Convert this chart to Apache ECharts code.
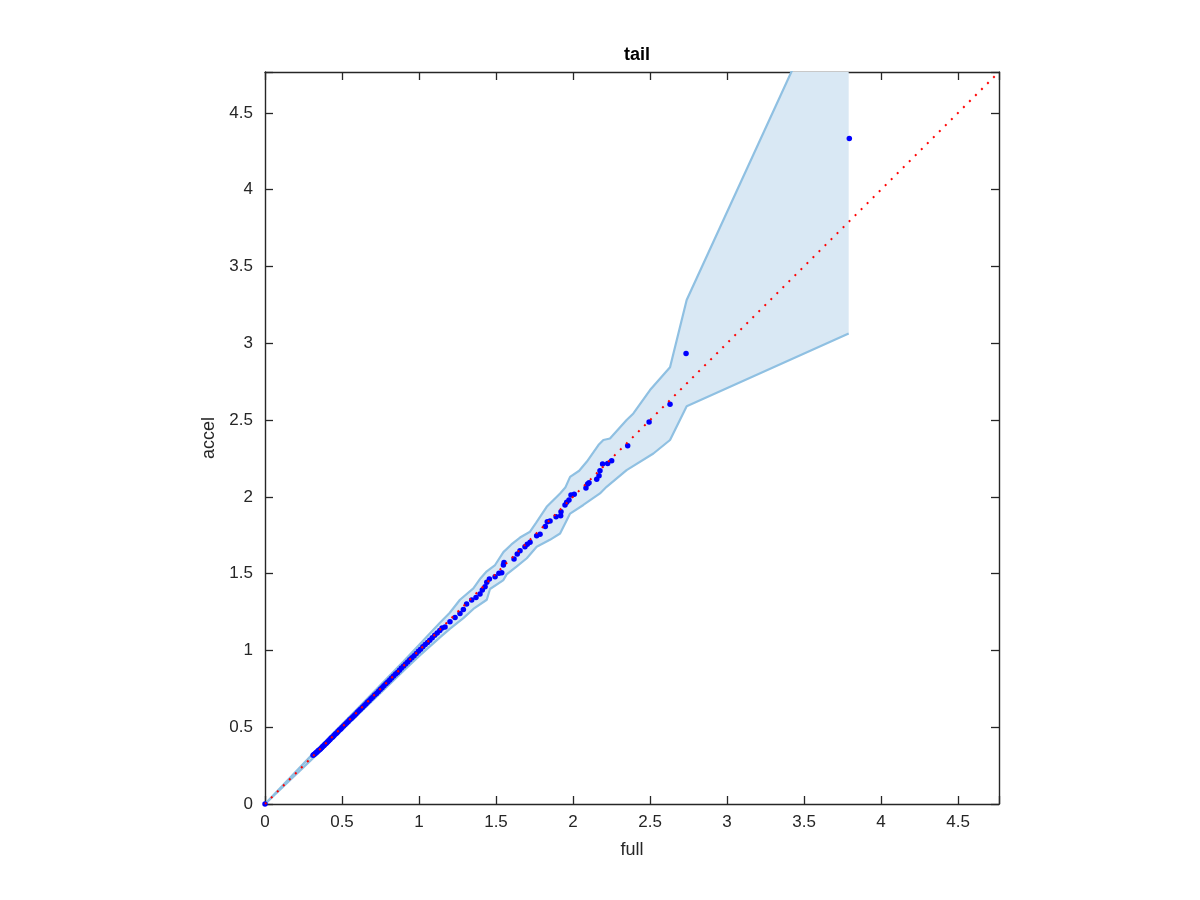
<!DOCTYPE html>
<html>
<head>
<meta charset="utf-8">
<script src="https://cdn.jsdelivr.net/npm/echarts@6/dist/echarts.min.js"></script>
<style>html,body{margin:0;padding:0;background:#fff;}#chart{width:1200px;height:900px;}</style>
</head>
<body>
<div id="chart"></div>
<script>
const AXIS_MAX = 4.766;
const tickLabels = ['0','0.5','1','1.5','2','2.5','3','3.5','4','4.5'];

// quantile points (full, accel)
const fullQ = [0, 0.312,0.318,0.325,0.331,0.338,0.345,0.352,0.36,0.368,0.375,0.383,0.39,0.398,0.406,0.414,0.422,0.43,0.44,0.448,0.457,0.466,0.474,0.483,0.492,0.5,0.51,0.52,0.53,0.54,0.55,0.56,0.57,0.58,0.59,0.6,0.61,0.62,0.632,0.643,0.655,0.665,0.676,0.688,0.7,0.712,0.724,0.736,0.748,0.76,0.772,0.785,0.797,0.81,0.822,0.835,0.848,0.86,0.873,0.886,0.9,0.913,0.926,0.94,0.954,0.968,0.982,0.996,1.01,1.025,1.04,1.055,1.07,1.086,1.102,1.118,1.135,1.15,
  1.169,1.201,1.234,1.266,1.288,1.309,1.342,1.370,1.396,1.411,1.429,1.440,1.457,1.494,1.519,1.537,1.548,1.552,1.617,1.638,1.656,1.688,1.703,1.721,1.764,1.786,1.820,1.833,1.851,1.890,1.920,1.922,1.948,1.959,1.974,1.987,2.008,2.084,2.095,2.104,2.154,2.169,2.175,2.192,2.225,2.251,2.355,2.494,2.630,2.734,3.794];
const accelQ = [0, 0.318,0.322,0.327,0.333,0.339,0.346,0.351,0.358,0.366,0.374,0.381,0.389,0.396,0.404,0.412,0.42,0.429,0.437,0.446,0.455,0.463,0.472,0.481,0.489,0.498,0.508,0.517,0.527,0.537,0.548,0.556,0.566,0.577,0.586,0.597,0.607,0.617,0.628,0.64,0.651,0.662,0.673,0.686,0.697,0.709,0.72,0.733,0.745,0.757,0.77,0.783,0.795,0.807,0.82,0.834,0.846,0.857,0.871,0.885,0.898,0.912,0.925,0.94,0.952,0.965,0.98,0.995,1.008,1.024,1.038,1.052,1.066,1.083,1.098,1.113,1.13,1.146,
  1.153,1.186,1.214,1.241,1.267,1.302,1.328,1.345,1.367,1.393,1.415,1.443,1.465,1.480,1.502,1.506,1.556,1.573,1.595,1.628,1.649,1.675,1.691,1.704,1.747,1.756,1.806,1.838,1.842,1.871,1.877,1.903,1.947,1.964,1.979,2.012,2.016,2.057,2.083,2.091,2.115,2.137,2.170,2.213,2.217,2.235,2.332,2.487,2.602,2.933,4.333];

// confidence band edges
const upperX = [0,0.3,0.6,0.9,1.0,1.136,1.2,1.266,1.353,1.40,1.44,1.494,1.548,1.60,1.656,1.721,1.76,1.829,1.916,1.95,1.981,2.04,2.089,2.165,2.197,2.240,2.348,2.392,2.5,2.63,2.738,3.79];
const upperY = [0,0.315,0.62,0.93,1.035,1.18,1.245,1.33,1.404,1.47,1.515,1.556,1.64,1.69,1.735,1.773,1.83,1.935,2.022,2.06,2.13,2.17,2.228,2.337,2.37,2.38,2.5,2.543,2.695,2.843,3.281,5.58];
const lowerX = [0,0.3,0.6,0.9,1.0,1.136,1.2,1.288,1.353,1.44,1.461,1.548,1.569,1.633,1.70,1.764,1.85,1.916,1.981,2.067,2.175,2.218,2.348,2.522,2.63,2.738,3.79];
const lowerY = [0,0.287,0.578,0.868,0.963,1.085,1.14,1.21,1.27,1.33,1.40,1.458,1.495,1.545,1.60,1.675,1.72,1.761,1.891,1.947,2.022,2.065,2.174,2.282,2.37,2.59,3.064];

const refLine = [[0,0],[AXIS_MAX,AXIS_MAX]];

const points = fullQ.map((v,i)=>[v, accelQ[i]]);
const upperPts = upperX.map((v,i)=>[v, upperY[i]]);
const lowerPts = lowerX.map((v,i)=>[v, lowerY[i]]);

const FONT = 'Liberation Sans, Helvetica, Arial, sans-serif';
const AX = '#262626';
const labelFmt = v => {
  const s = String(Math.round(v*100)/100);
  return tickLabels.indexOf(s) >= 0 && Math.abs(v - parseFloat(s)) < 1e-6 ? s : '';
};

function axisCommon(extra){
  return Object.assign({
    type:'value', min:0, max:AXIS_MAX, interval:0.5,
    splitLine:{show:false},
    axisLine:{show:true, onZero:false, lineStyle:{color:AX, width:1.4}},
    axisTick:{show:true, inside:true, length:8, lineStyle:{color:AX, width:1.3}},
  }, extra);
}

const chart = echarts.init(document.getElementById('chart'), null, {renderer:'canvas'});
chart.setOption({
  animation:false,
  backgroundColor:'#ffffff',
  title:{text:'tail', left:632, top:41, textAlign:'center',
    textStyle:{fontFamily:FONT, fontSize:18, fontWeight:'bold', color:'#000'}},
  grid:{left:265, top:72, right:201, bottom:96, containLabel:false},
  xAxis:[
    axisCommon({position:'bottom', name:'full', nameLocation:'middle', nameGap:37,
      nameTextStyle:{fontFamily:FONT, fontSize:18, color:AX},
      axisLabel:{fontFamily:FONT, fontSize:17, color:AX, margin:10, formatter:labelFmt}}),
    axisCommon({position:'top', axisLabel:{show:false}})
  ],
  yAxis:[
    axisCommon({position:'left', name:'accel', nameLocation:'middle', nameGap:46,
      nameTextStyle:{fontFamily:FONT, fontSize:18, color:AX},
      axisLabel:{fontFamily:FONT, fontSize:17, color:AX, margin:12, formatter:labelFmt}}),
    axisCommon({position:'right', axisLabel:{show:false}})
  ],
  series:[
    {
      type:'custom', xAxisIndex:0, yAxisIndex:0, clip:true, z:1, silent:true,
      data:[[0,0]],
      renderItem:function(params, api){
        const pts = [];
        upperPts.forEach(p=>pts.push(api.coord(p)));
        for(let i=lowerPts.length-1;i>=0;i--) pts.push(api.coord(lowerPts[i]));
        const cs = params.coordSys;
        return {type:'polygon', shape:{points:pts},
          clipPath:{type:'rect', shape:{x:cs.x, y:cs.y, width:cs.width, height:cs.height}},
          style:{fill:'#d9e8f4', stroke:null}};
      }
    },
    {type:'line', data:upperPts, showSymbol:false, clip:true, z:2, silent:true,
      lineStyle:{color:'#8fc0e2', width:2.2}},
    {type:'line', data:lowerPts, showSymbol:false, clip:true, z:2, silent:true,
      lineStyle:{color:'#8fc0e2', width:2.2}},
    {type:'scatter', data:points, symbol:'circle', symbolSize:5.5, z:3, silent:true,
      itemStyle:{color:'#0000ff', opacity:1}},
    {type:'line', data:refLine, showSymbol:false, clip:true, z:4, silent:true,
      lineStyle:{color:'#ff0000', width:2, type:[2,6.5]}}
  ]
});
</script>
</body>
</html>
